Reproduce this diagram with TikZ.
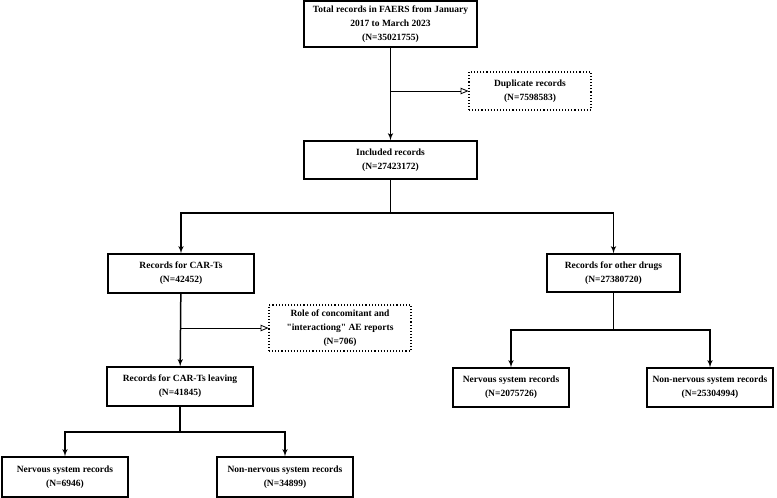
\documentclass[tikz,border=0pt]{standalone}
\usepackage{fontspec}
\setmainfont{Liberation Serif}
\usetikzlibrary{arrows}

\begin{document}
\begin{tikzpicture}
				[x=1pt,y=-1pt,
				every node/.style={draw,line width=1.1pt,align=center,inner sep=2pt,font=\bfseries\fontsize{9.5}{14}\selectfont},
				box/.style={minimum width=#1},
				drop/.style={dotted,line width=1.1pt},
				edge/.style={->,> = latex',line width=1.5pt},
				trunk/.style={line width=1.5pt},
				side/.style={->,> = open triangle 45,line width=0.8pt}]
				\useasboundingbox (0,0) rectangle (777,498);

				\node[box=173pt,minimum height=46pt] (total) at (390.5,24) {Total records in FAERS from January\\2017 to March 2023\\(N=35021755)};
				\node[box=122pt,minimum height=38pt,drop] (dup) at (530,91) {Duplicate records\\(N=7598583)};
				\node[box=173pt,minimum height=38pt] (incl) at (390.5,160) {Included records\\(N=27423172)};
				\node[box=146pt,minimum height=39pt] (cart) at (181,273.5) {Records for CAR-Ts\\(N=42452)};
				\node[box=142pt,minimum height=46pt,drop] (role) at (340,328) {Role of concomitant and\\\textquotedbl interactiong\textquotedbl{} AE reports\\(N=706)};
				\node[box=146pt,minimum height=39pt] (leave) at (180,386.5) {Records for CAR-Ts leaving\\(N=41845)};
				\node[box=126pt,minimum height=40pt] (nerv1) at (65,477) {Nervous system records\\(N=6946)};
				\node[box=136pt,minimum height=40pt] (non1) at (285,477) {Non-nervous system records\\(N=34899)};
				\node[box=133pt,minimum height=38pt] (other) at (613.5,273) {Records for other drugs\\(N=27380720)};
				\node[box=116pt,minimum height=39pt] (nerv2) at (511,387.5) {Nervous system records\\(N=2075726)};
				\node[box=126pt,minimum height=39pt] (non2) at (710,387.5) {Non-nervous system records\\(N=25304994)};

				\coordinate (s0) at (390.5,213);
				\coordinate (s1) at (180,432);
				\coordinate (s2) at (613.5,330);

				\draw[edge] (total) to (incl);
				\draw[side] (total.south |- dup) to (dup.west);
				\draw[trunk] (incl) to (s0);
				\draw[edge] (s0) -| (cart);
				\draw[edge] (s0) -| (other);
				\draw[edge] (cart) to (leave);
				\draw[side] (cart.south |- role) to (role.west);
				\draw[trunk] (leave) to (s1);
				\draw[edge] (s1) -| (nerv1);
				\draw[edge] (s1) -| (non1);
				\draw[trunk] (other) to (s2);
				\draw[edge] (s2) -| (nerv2);
				\draw[edge] (s2) -| (non2);
\end{tikzpicture}
\end{document}
